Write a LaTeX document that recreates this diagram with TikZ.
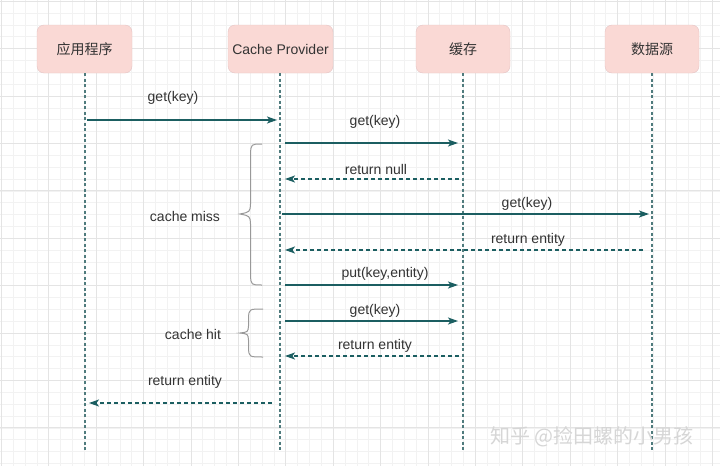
\documentclass[tikz,border=0pt]{standalone}
\usepackage{fontspec}
\setmainfont{Liberation Sans}
\newfontfamily\cjk{Noto Sans CJK SC}
\usetikzlibrary{arrows.meta}
\definecolor{gridminor}{HTML}{F2F2F2}
\definecolor{gridmajor}{HTML}{E4E4E4}
\definecolor{headfill}{HTML}{FAD9D5}
\definecolor{headline}{HTML}{E6C4C4}
\definecolor{lifecol}{HTML}{4F7B7D}
\definecolor{msgcol}{HTML}{1B5E61}
\definecolor{txtcol}{HTML}{333333}

\begin{document}
\begin{tikzpicture}[x=1pt, y=-1pt,
  head/.style={rectangle, draw=headline, fill=headfill, rounded corners=7pt,
    minimum height=48pt, text=txtcol, font=\fontsize{14}{16}\selectfont},
  lifeline/.style={draw=lifecol, line width=1.3pt, dash pattern=on 3pt off 2.5pt},
  msg/.style={draw=msgcol, line width=1.3pt, -{Stealth[length=10pt, width=7pt, inset=2.5pt]}},
  reply/.style={msg, dash pattern=on 4pt off 3pt},
  lbl/.style={text=txtcol, font=\fontsize{14}{16}\selectfont, inner sep=0pt},
  brace/.style={draw=gray!80, line width=1pt}]
  \useasboundingbox (0,0) rectangle (720,466);
  \fill[white] (0,0) rectangle (720,466);

  % grid
  \foreach \i in {0,...,61}
    \draw[gridminor, line width=0.8pt] (1.4+\i*11.85,0) -- (1.4+\i*11.85,466);
  \foreach \i in {0,...,39}
    \draw[gridminor, line width=0.8pt] (0,1.3+\i*11.85) -- (720,1.3+\i*11.85);
  \foreach \i in {0,...,15}
    \draw[gridmajor, line width=1pt] (1.4+\i*47.4,0) -- (1.4+\i*47.4,466);
  \foreach \i in {0,...,10}
    \draw[gridmajor, line width=1pt] (0,1.3+\i*47.4) -- (720,1.3+\i*47.4);

  % heads
  \node[head, minimum width=95pt] (app) at (84.5,49) {\cjk 应用程序};
  \node[head, minimum width=105pt] (provider) at (280.5,49) {Cache Provider};
  \node[head, minimum width=94pt] (cache) at (463,49) {\cjk 缓存};
  \node[head, minimum width=94pt] (source) at (652,49) {\cjk 数据源};

  % lifelines
  \coordinate (append) at (85,451);
  \coordinate (provend) at (280,451);
  \coordinate (cacheend) at (463,451);
  \coordinate (srcend) at (652,451);
  \draw[lifeline] (app.south -| append) -- (append);
  \draw[lifeline] (provider.south -| provend) -- (provend);
  \draw[lifeline] (cache.south -| cacheend) -- (cacheend);
  \draw[lifeline] (source.south -| srcend) -- (srcend);

  % messages
  \coordinate (m1a) at (87,120);  \coordinate (m1b) at (277,120);
  \coordinate (m2a) at (285,143); \coordinate (m2b) at (458,143);
  \coordinate (m3a) at (459,179); \coordinate (m3b) at (285,179);
  \coordinate (m4a) at (282,214); \coordinate (m4b) at (649,214);
  \coordinate (m5a) at (643,250); \coordinate (m5b) at (285,250);
  \coordinate (m6a) at (285,285); \coordinate (m6b) at (458,285);
  \coordinate (m7a) at (285,321); \coordinate (m7b) at (458,321);
  \coordinate (m8a) at (459,356); \coordinate (m8b) at (285,356);
  \coordinate (m9a) at (272,403); \coordinate (m9b) at (89,403);

  \draw[msg] (m1a) -- (m1b);
  \node[lbl] (l1) at (173,98) {get(key)};
  \draw[msg] (m2a) -- (m2b);
  \node[lbl] (l2) at (375,122) {get(key)};
  \draw[reply] (m3a) -- (m3b);
  \node[lbl] (l3) at (376,169) {return null};
  \draw[msg] (m4a) -- (m4b);
  \node[lbl] (l4) at (527,204) {get(key)};
  \draw[reply] (m5a) -- (m5b);
  \node[lbl] (l5) at (528,240) {return entity};
  \draw[msg] (m6a) -- (m6b);
  \node[lbl] (l6) at (385,274) {put(key,entity)};
  \draw[msg] (m7a) -- (m7b);
  \node[lbl] (l7) at (375,311) {get(key)};
  \draw[reply] (m8a) -- (m8b);
  \node[lbl] (l8) at (375,346) {return entity};
  \draw[reply] (m9a) -- (m9b);
  \node[lbl] (l9) at (185,382) {return entity};

  % braces
  \draw[brace] (262,144) .. controls (251,144) .. (250.5,154) -- (250.5,204)
    .. controls (250,212) .. (240,214) .. controls (250,216) .. (250.5,224)
    -- (250.5,275) .. controls (251,285) .. (262,285);
  \node[lbl] (miss) at (185,216) {cache miss};
  \draw[brace] (263,309) .. controls (249,309) .. (248.5,318) -- (248.5,326)
    .. controls (248,332) .. (240,333) .. controls (248,334) .. (248.5,340)
    -- (248.5,348) .. controls (249,357) .. (263,357);
  \node[lbl] (hit) at (193,334) {cache hit};

  % watermark
  \node[text=gray!32, font=\cjk\fontsize{20}{22}\selectfont, inner sep=0pt] (mark) at (592,437) {知乎 @捡田螺的小男孩};
\end{tikzpicture}
\end{document}
